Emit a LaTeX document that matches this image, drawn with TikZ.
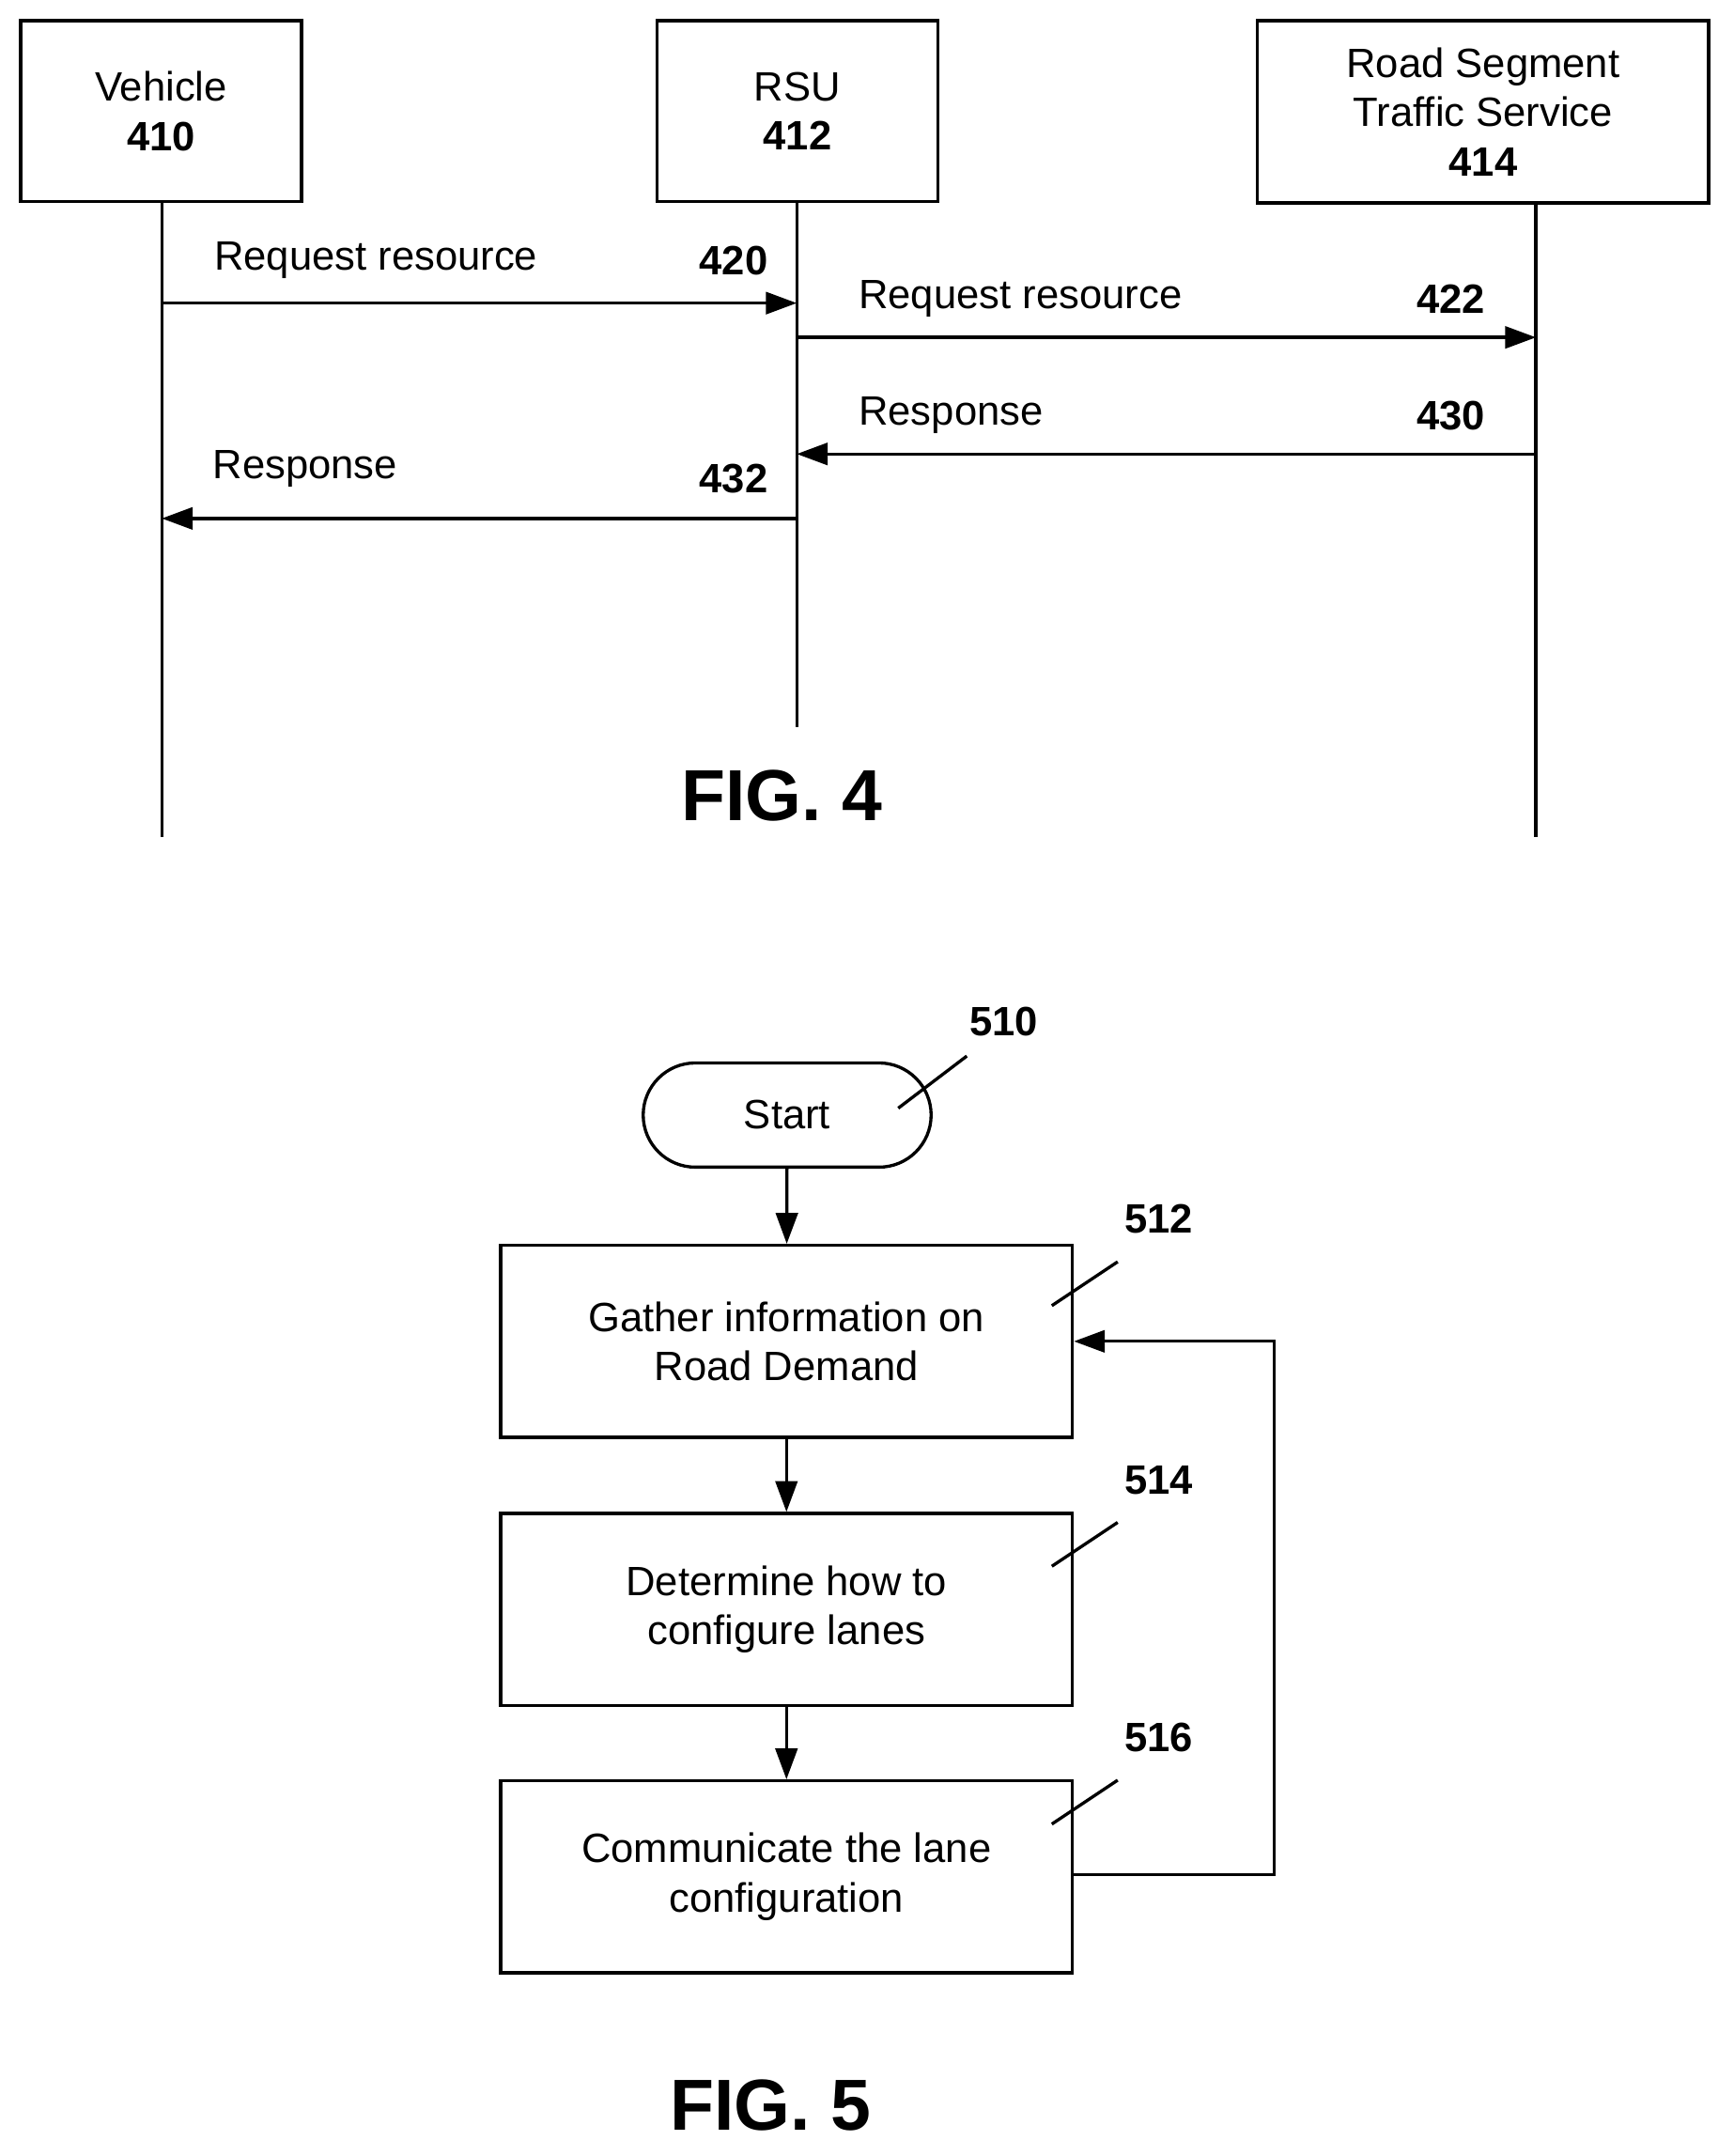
\documentclass[tikz,border=0pt]{standalone}
\usepackage{fontspec}
\setmainfont{Liberation Sans}
\usetikzlibrary{positioning}
\usetikzlibrary{calc}
\usetikzlibrary{arrows.meta}
\tikzset{
    % Filled triangular tips as in the drawing
    >={Triangle[length=4.5mm,width=3.2mm]},
%
    % Labelled boxes heading each lifeline
    actor/.style={draw, line width=1.3pt, rectangle, inner sep=0,
        align=center, font=\fontsize{17}{20.5}\selectfont},
%
    % Process steps of the flow chart
    process box/.style={draw, line width=1.3pt, rectangle, inner sep=0,
        minimum width=8.34cm, minimum height=2.8cm, align=center,
        font=\fontsize{17}{20.5}\selectfont},
%
    msg text/.style={font=\fontsize{17}{20}\selectfont},
    ref num/.style={font=\bfseries\fontsize{17}{20}\selectfont},
    fig title/.style={font=\bfseries\fontsize{30}{34}\selectfont},
    wire/.style={line width=1.3pt}}

\begin{document}
\begin{tikzpicture}[x=0.02cm, y=-0.02cm]
\useasboundingbox (0,0) rectangle (1264,1572);

% Sequence chart heads
\node[actor, minimum width=4.1cm, minimum height=2.64cm]
    (vehicle) at (117.5,81) {Vehicle\\\textbf{410}};
\node[actor, minimum width=4.1cm, minimum height=2.64cm]
    (rsu) at (581.5,81) {RSU\\\textbf{412}};
\node[actor, minimum width=6.58cm, minimum height=2.66cm]
    (service) at (1081.5,81.5) {Road Segment\\Traffic Service\\\textbf{414}};

% Lifelines
\coordinate (vehicle end) at (118,610);
\coordinate (rsu end) at (581,530);
\coordinate (service end) at (1120,610);
\draw[wire] (118,147) -- (vehicle end);
\draw[wire] (581,147) -- (rsu end);
\draw[wire] (1120,148) -- (service end);

% Messages
\foreach \name/\x in {v/118, r/581, s/1120}
    \foreach \y in {221,246,331,378}
        \coordinate (\name\y) at (\x,\y);

\draw[wire,->] (v221) -- (r221);
\node[msg text, anchor=west] (m420) at (150,190) {Request resource};
\node[ref num, anchor=east] (n420) at (566,190) {420};

\draw[wire,->] (r246) -- (s246);
\node[msg text, anchor=west] (m422) at (620,218) {Request resource};
\node[ref num, anchor=east] (n422) at (1089,218) {422};

\draw[wire,->] (s331) -- (r331);
\node[msg text, anchor=west] (m430) at (620,303) {Response};
\node[ref num, anchor=east] (n430) at (1089,303) {430};

\draw[wire,->] (r378) -- (v378);
\node[msg text, anchor=west] (m432) at (149,342) {Response};
\node[ref num, anchor=east] (n432) at (566,349) {432};

\node[fig title] (fig4) at (570,580) {FIG. 4};

% Flow chart
\node[draw, line width=1.3pt, rounded corners=0.76cm, minimum width=4.2cm,
    minimum height=1.52cm, font=\fontsize{17}{20}\selectfont]
    (start) at (574,813) {Start};
\node[process box] (gather) at (573.5,978) {Gather information on\\Road Demand};
\node[process box] (determine) at (573.5,1173.5) {Determine how to\\configure lanes};
\node[process box] (communicate) at (573.5,1368.5) {Communicate the lane\\configuration};

\draw[wire,->] (start) -- (gather);
\draw[wire,->] (gather) -- (determine);
\draw[wire,->] (determine) -- (communicate);

% Loop back
\coordinate (loop low) at (929,1367);
\coordinate (loop high) at (929,978);
\draw[wire,->] (communicate.east |- loop low) -- (loop low) -- (loop high)
    -- (gather.east);

% Reference numerals with leader lines
\node[ref num] (n510) at (732,745) {510};
\node[ref num] (n512) at (845,889) {512};
\node[ref num] (n514) at (845,1079) {514};
\node[ref num] (n516) at (845,1267) {516};
\draw[wire] (655,808) -- (705,770);
\draw[wire] (767,952) -- (815,920);
\draw[wire] (767,1142) -- (815,1110);
\draw[wire] (767,1330) -- (815,1298);

\node[fig title] (fig5) at (562,1535) {FIG. 5};
\end{tikzpicture}
\end{document}
